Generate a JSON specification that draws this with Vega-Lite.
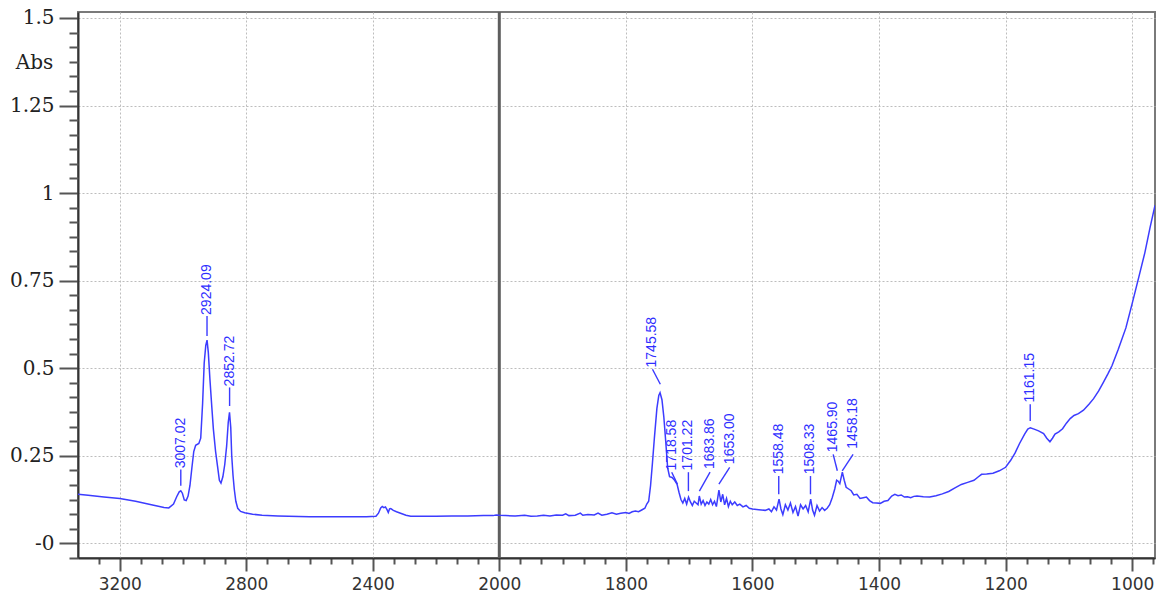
{
  "$schema": "https://vega.github.io/schema/vega-lite/v6.json",
  "width": 1077,
  "height": 546,
  "autosize": {"type": "none"},
  "padding": {"left": 78, "top": 12, "right": 6, "bottom": 37},
  "background": "white",
  "config": {
    "view": {"stroke": "#7a7a7a", "strokeWidth": 2},
    "axis": {"domainColor": "#333333", "domainWidth": 2, "tickColor": "#555555", "tickWidth": 2}
  },
  "datasets": {
    "spectrum": [
      {"wn": 3332, "abs": 0.140}, {"wn": 3300, "abs": 0.137}, {"wn": 3250, "abs": 0.132}, {"wn": 3200, "abs": 0.128},
      {"wn": 3150, "abs": 0.120}, {"wn": 3100, "abs": 0.110}, {"wn": 3060, "abs": 0.102}, {"wn": 3045, "abs": 0.101},
      {"wn": 3030, "abs": 0.112}, {"wn": 3020, "abs": 0.133}, {"wn": 3012, "abs": 0.147}, {"wn": 3007, "abs": 0.150},
      {"wn": 3002, "abs": 0.143}, {"wn": 2996, "abs": 0.124}, {"wn": 2990, "abs": 0.122}, {"wn": 2984, "abs": 0.135},
      {"wn": 2978, "abs": 0.165}, {"wn": 2972, "abs": 0.215}, {"wn": 2966, "abs": 0.262}, {"wn": 2960, "abs": 0.280},
      {"wn": 2950, "abs": 0.285}, {"wn": 2944, "abs": 0.300}, {"wn": 2938, "abs": 0.400}, {"wn": 2933, "abs": 0.515},
      {"wn": 2928, "abs": 0.565}, {"wn": 2924, "abs": 0.580}, {"wn": 2920, "abs": 0.545}, {"wn": 2915, "abs": 0.470},
      {"wn": 2909, "abs": 0.390}, {"wn": 2904, "abs": 0.326}, {"wn": 2897, "abs": 0.262}, {"wn": 2891, "abs": 0.221},
      {"wn": 2885, "abs": 0.180}, {"wn": 2880, "abs": 0.172}, {"wn": 2874, "abs": 0.190}, {"wn": 2868, "abs": 0.225},
      {"wn": 2862, "abs": 0.278}, {"wn": 2857, "abs": 0.345}, {"wn": 2853, "abs": 0.374}, {"wn": 2849, "abs": 0.330},
      {"wn": 2846, "abs": 0.250}, {"wn": 2842, "abs": 0.195}, {"wn": 2838, "abs": 0.155}, {"wn": 2833, "abs": 0.120},
      {"wn": 2827, "abs": 0.100}, {"wn": 2818, "abs": 0.091}, {"wn": 2805, "abs": 0.087}, {"wn": 2780, "abs": 0.083},
      {"wn": 2750, "abs": 0.080}, {"wn": 2700, "abs": 0.078}, {"wn": 2600, "abs": 0.076}, {"wn": 2500, "abs": 0.076},
      {"wn": 2420, "abs": 0.076}, {"wn": 2390, "abs": 0.077}, {"wn": 2382, "abs": 0.086}, {"wn": 2375, "abs": 0.101},
      {"wn": 2370, "abs": 0.105}, {"wn": 2365, "abs": 0.102}, {"wn": 2360, "abs": 0.104}, {"wn": 2355, "abs": 0.096},
      {"wn": 2351, "abs": 0.088}, {"wn": 2347, "abs": 0.098}, {"wn": 2343, "abs": 0.099}, {"wn": 2335, "abs": 0.094},
      {"wn": 2325, "abs": 0.090}, {"wn": 2310, "abs": 0.085}, {"wn": 2295, "abs": 0.080}, {"wn": 2280, "abs": 0.077},
      {"wn": 2250, "abs": 0.077}, {"wn": 2200, "abs": 0.077}, {"wn": 2150, "abs": 0.078}, {"wn": 2100, "abs": 0.078},
      {"wn": 2050, "abs": 0.079}, {"wn": 2020, "abs": 0.079}, {"wn": 2010, "abs": 0.081}, {"wn": 2000, "abs": 0.080},
      {"wn": 1990, "abs": 0.079}, {"wn": 1975, "abs": 0.078}, {"wn": 1960, "abs": 0.080}, {"wn": 1950, "abs": 0.077},
      {"wn": 1940, "abs": 0.078}, {"wn": 1930, "abs": 0.080}, {"wn": 1920, "abs": 0.078}, {"wn": 1910, "abs": 0.081},
      {"wn": 1900, "abs": 0.080}, {"wn": 1895, "abs": 0.084}, {"wn": 1890, "abs": 0.079}, {"wn": 1880, "abs": 0.080},
      {"wn": 1872, "abs": 0.086}, {"wn": 1868, "abs": 0.080}, {"wn": 1860, "abs": 0.082}, {"wn": 1850, "abs": 0.081},
      {"wn": 1844, "abs": 0.086}, {"wn": 1838, "abs": 0.080}, {"wn": 1830, "abs": 0.083}, {"wn": 1822, "abs": 0.087},
      {"wn": 1815, "abs": 0.083}, {"wn": 1808, "abs": 0.086}, {"wn": 1800, "abs": 0.088}, {"wn": 1795, "abs": 0.085},
      {"wn": 1790, "abs": 0.090}, {"wn": 1785, "abs": 0.092}, {"wn": 1780, "abs": 0.090}, {"wn": 1775, "abs": 0.095},
      {"wn": 1770, "abs": 0.100}, {"wn": 1767, "abs": 0.112}, {"wn": 1764, "abs": 0.120}, {"wn": 1761, "abs": 0.165},
      {"wn": 1758, "abs": 0.230}, {"wn": 1755, "abs": 0.300}, {"wn": 1751, "abs": 0.385}, {"wn": 1748, "abs": 0.422},
      {"wn": 1746, "abs": 0.430}, {"wn": 1743, "abs": 0.410}, {"wn": 1740, "abs": 0.360}, {"wn": 1737, "abs": 0.290},
      {"wn": 1734, "abs": 0.215}, {"wn": 1731, "abs": 0.190}, {"wn": 1727, "abs": 0.188}, {"wn": 1723, "abs": 0.180},
      {"wn": 1719, "abs": 0.168}, {"wn": 1716, "abs": 0.145}, {"wn": 1713, "abs": 0.125}, {"wn": 1710, "abs": 0.115},
      {"wn": 1707, "abs": 0.128}, {"wn": 1704, "abs": 0.112}, {"wn": 1701, "abs": 0.132}, {"wn": 1698, "abs": 0.118},
      {"wn": 1695, "abs": 0.108}, {"wn": 1692, "abs": 0.120}, {"wn": 1689, "abs": 0.115}, {"wn": 1686, "abs": 0.110},
      {"wn": 1684, "abs": 0.135}, {"wn": 1681, "abs": 0.112}, {"wn": 1678, "abs": 0.122}, {"wn": 1675, "abs": 0.108},
      {"wn": 1672, "abs": 0.118}, {"wn": 1669, "abs": 0.112}, {"wn": 1666, "abs": 0.125}, {"wn": 1663, "abs": 0.110},
      {"wn": 1660, "abs": 0.120}, {"wn": 1657, "abs": 0.105}, {"wn": 1653, "abs": 0.152}, {"wn": 1650, "abs": 0.118},
      {"wn": 1647, "abs": 0.140}, {"wn": 1644, "abs": 0.110}, {"wn": 1641, "abs": 0.128}, {"wn": 1638, "abs": 0.105},
      {"wn": 1635, "abs": 0.120}, {"wn": 1632, "abs": 0.110}, {"wn": 1628, "abs": 0.118}, {"wn": 1624, "abs": 0.108},
      {"wn": 1620, "abs": 0.112}, {"wn": 1615, "abs": 0.104}, {"wn": 1610, "abs": 0.108}, {"wn": 1605, "abs": 0.100},
      {"wn": 1600, "abs": 0.098}, {"wn": 1590, "abs": 0.096}, {"wn": 1580, "abs": 0.094}, {"wn": 1574, "abs": 0.098},
      {"wn": 1570, "abs": 0.090}, {"wn": 1566, "abs": 0.104}, {"wn": 1562, "abs": 0.095}, {"wn": 1558, "abs": 0.126},
      {"wn": 1555, "abs": 0.098}, {"wn": 1552, "abs": 0.082}, {"wn": 1548, "abs": 0.110}, {"wn": 1544, "abs": 0.095},
      {"wn": 1540, "abs": 0.115}, {"wn": 1536, "abs": 0.088}, {"wn": 1532, "abs": 0.105}, {"wn": 1528, "abs": 0.078},
      {"wn": 1524, "abs": 0.110}, {"wn": 1520, "abs": 0.098}, {"wn": 1516, "abs": 0.108}, {"wn": 1512, "abs": 0.090},
      {"wn": 1508, "abs": 0.126}, {"wn": 1505, "abs": 0.095}, {"wn": 1502, "abs": 0.080}, {"wn": 1498, "abs": 0.108},
      {"wn": 1494, "abs": 0.092}, {"wn": 1490, "abs": 0.102}, {"wn": 1486, "abs": 0.094}, {"wn": 1482, "abs": 0.100},
      {"wn": 1478, "abs": 0.110}, {"wn": 1474, "abs": 0.130}, {"wn": 1470, "abs": 0.155}, {"wn": 1467, "abs": 0.180},
      {"wn": 1465, "abs": 0.178}, {"wn": 1462, "abs": 0.170}, {"wn": 1458, "abs": 0.203}, {"wn": 1455, "abs": 0.180},
      {"wn": 1452, "abs": 0.160}, {"wn": 1448, "abs": 0.155}, {"wn": 1444, "abs": 0.150}, {"wn": 1440, "abs": 0.138},
      {"wn": 1435, "abs": 0.140}, {"wn": 1430, "abs": 0.128}, {"wn": 1425, "abs": 0.130}, {"wn": 1420, "abs": 0.132},
      {"wn": 1415, "abs": 0.122}, {"wn": 1410, "abs": 0.116}, {"wn": 1404, "abs": 0.115}, {"wn": 1398, "abs": 0.114},
      {"wn": 1392, "abs": 0.120}, {"wn": 1386, "abs": 0.122}, {"wn": 1380, "abs": 0.135}, {"wn": 1375, "abs": 0.140},
      {"wn": 1370, "abs": 0.136}, {"wn": 1365, "abs": 0.138}, {"wn": 1360, "abs": 0.132}, {"wn": 1355, "abs": 0.133},
      {"wn": 1350, "abs": 0.130}, {"wn": 1345, "abs": 0.134}, {"wn": 1340, "abs": 0.135}, {"wn": 1330, "abs": 0.133},
      {"wn": 1320, "abs": 0.132}, {"wn": 1310, "abs": 0.136}, {"wn": 1300, "abs": 0.141}, {"wn": 1290, "abs": 0.148},
      {"wn": 1280, "abs": 0.158}, {"wn": 1270, "abs": 0.168}, {"wn": 1260, "abs": 0.174}, {"wn": 1250, "abs": 0.180},
      {"wn": 1243, "abs": 0.190}, {"wn": 1238, "abs": 0.197}, {"wn": 1230, "abs": 0.198}, {"wn": 1220, "abs": 0.200},
      {"wn": 1210, "abs": 0.207}, {"wn": 1200, "abs": 0.217}, {"wn": 1192, "abs": 0.237}, {"wn": 1185, "abs": 0.258},
      {"wn": 1178, "abs": 0.285}, {"wn": 1170, "abs": 0.312}, {"wn": 1165, "abs": 0.326}, {"wn": 1161, "abs": 0.330},
      {"wn": 1155, "abs": 0.326}, {"wn": 1148, "abs": 0.321}, {"wn": 1140, "abs": 0.313}, {"wn": 1135, "abs": 0.300},
      {"wn": 1130, "abs": 0.290}, {"wn": 1126, "abs": 0.300}, {"wn": 1122, "abs": 0.312}, {"wn": 1116, "abs": 0.318},
      {"wn": 1110, "abs": 0.327}, {"wn": 1104, "abs": 0.343}, {"wn": 1098, "abs": 0.356}, {"wn": 1092, "abs": 0.365},
      {"wn": 1085, "abs": 0.370}, {"wn": 1077, "abs": 0.380}, {"wn": 1068, "abs": 0.398}, {"wn": 1061, "abs": 0.413},
      {"wn": 1053, "abs": 0.435}, {"wn": 1046, "abs": 0.458}, {"wn": 1038, "abs": 0.485}, {"wn": 1032, "abs": 0.507},
      {"wn": 1022, "abs": 0.554}, {"wn": 1010, "abs": 0.615}, {"wn": 1000, "abs": 0.685}, {"wn": 990, "abs": 0.757},
      {"wn": 980, "abs": 0.830}, {"wn": 972, "abs": 0.900}, {"wn": 964, "abs": 0.965}
    ],
    "peaks": [
      {"label": "3007.02", "wn": 3007.02, "lx": 3007.02, "lo": 0.164, "hi": 0.211, "ty": 0.214},
      {"label": "2924.09", "wn": 2924.09, "lx": 2924.09, "lo": 0.592, "hi": 0.649, "ty": 0.652},
      {"label": "2852.72", "wn": 2852.72, "lx": 2852.72, "lo": 0.392, "hi": 0.445, "ty": 0.448},
      {"label": "1745.58", "wn": 1745.58, "lx": 1758, "lo": 0.454, "hi": 0.497, "ty": 0.502},
      {"label": "1718.58", "wn": 1718.58, "lx": 1727.6, "lo": 0.169, "hi": 0.203, "ty": 0.208},
      {"label": "1701.22", "wn": 1701.22, "lx": 1701.22, "lo": 0.149, "hi": 0.203, "ty": 0.208},
      {"label": "1683.86", "wn": 1683.86, "lx": 1667, "lo": 0.149, "hi": 0.203, "ty": 0.212},
      {"label": "1653.00", "wn": 1653.0, "lx": 1636, "lo": 0.169, "hi": 0.217, "ty": 0.226},
      {"label": "1558.48", "wn": 1558.48, "lx": 1558.48, "lo": 0.14, "hi": 0.192, "ty": 0.197},
      {"label": "1508.33", "wn": 1508.33, "lx": 1508.33, "lo": 0.14, "hi": 0.192, "ty": 0.197},
      {"label": "1465.90", "wn": 1465.9, "lx": 1472.5, "lo": 0.207, "hi": 0.254, "ty": 0.26},
      {"label": "1458.18", "wn": 1458.18, "lx": 1441, "lo": 0.207, "hi": 0.254, "ty": 0.27},
      {"label": "1161.15", "wn": 1161.15, "lx": 1161.15, "lo": 0.349, "hi": 0.397, "ty": 0.402}
    ],
    "divider": [{"wn": 2000, "abs": 0}]
  },
  "resolve": {"axis": {"x": "independent", "y": "independent"}},
  "layer": [
    {
      "data": {"name": "divider"},
      "mark": {"type": "rule", "color": "#5e5e5e", "strokeWidth": 3},
      "encoding": {
        "x": {
          "field": "wn",
          "type": "quantitative",
          "scale": {"domain": [3332, 2000, 964], "range": [0, 421.3, 1077], "nice": false, "zero": false},
          "axis": {
            "orient": "bottom",
            "title": null,
            "values": [3266.67, 3133.33, 3066.67, 3000, 2933.33, 2866.67, 2733.33, 2666.67, 2600, 2533.33, 2466.67, 2333.33, 2266.67, 2200, 2133.33, 2066.67, 1966.67, 1933.33, 1900, 1866.67, 1833.33, 1766.67, 1733.33, 1700, 1666.67, 1633.33, 1566.67, 1533.33, 1500, 1466.67, 1433.33, 1366.67, 1333.33, 1300, 1266.67, 1233.33, 1166.67, 1133.33, 1100, 1066.67, 1033.33, 966.67],
            "labels": false,
            "grid": false,
            "domain": false,
            "tickSize": 6
          }
        }
      }
    },
    {
      "data": {"name": "spectrum"},
      "mark": {"type": "line", "color": "#3c3cff", "strokeWidth": 1.5, "clip": true},
      "encoding": {
        "x": {
          "field": "wn",
          "type": "quantitative",
          "axis": {
            "orient": "bottom",
            "title": null,
            "values": [3200, 2800, 2400, 2000, 1800, 1600, 1400, 1200, 1000],
            "format": "d",
            "labelFont": "DejaVu Sans",
            "labelFontSize": 17,
            "labelColor": "#333333",
            "labelPadding": 5,
            "labelOverlap": false,
            "labelFlush": false,
            "tickSize": 13,
            "grid": true,
            "gridColor": "#bdbdbd",
            "gridDash": [2, 2],
            "gridWidth": 1
          }
        },
        "y": {
          "field": "abs",
          "type": "quantitative",
          "scale": {"domain": [-0.042, 1.517], "nice": false, "zero": false},
          "axis": {
            "orient": "left",
            "title": "Abs",
            "titleAngle": 0,
            "titleX": -44,
            "titleY": 50,
            "titleAlign": "center",
            "titleBaseline": "middle",
            "titleFont": "DejaVu Serif",
            "titleFontSize": 20,
            "titleFontWeight": "normal",
            "titleColor": "#222222",
            "values": [0, 0.25, 0.5, 0.75, 1, 1.25, 1.5],
            "labelExpr": "datum.value == 0 ? '-0' : toString(datum.value)",
            "labelFont": "DejaVu Serif",
            "labelFontSize": 20,
            "labelColor": "#222222",
            "labelPadding": 5,
            "labelOverlap": false,
            "labelFlush": false,
            "tickSize": 19,
            "grid": true,
            "gridColor": "#bdbdbd",
            "gridDash": [2, 2],
            "gridWidth": 1
          }
        }
      }
    },
    {
      "data": {"name": "peaks"},
      "mark": {"type": "rule", "color": "#3a3aff", "strokeWidth": 1.4},
      "encoding": {
        "x": {"field": "wn", "type": "quantitative", "axis": null},
        "x2": {"field": "lx"},
        "y": {
          "field": "lo",
          "type": "quantitative",
          "axis": {
            "orient": "left",
            "title": null,
            "values": [-0.0417, 0.0417, 0.0833, 0.125, 0.1667, 0.2083, 0.2917, 0.3333, 0.375, 0.4167, 0.4583, 0.5417, 0.5833, 0.625, 0.6667, 0.7083, 0.7917, 0.8333, 0.875, 0.9167, 0.9583, 1.0417, 1.0833, 1.125, 1.1667, 1.2083, 1.2917, 1.3333, 1.375, 1.4167, 1.4583],
            "labels": false,
            "grid": false,
            "domain": false,
            "tickSize": 9
          }
        },
        "y2": {"field": "hi"}
      }
    },
    {
      "data": {"name": "peaks"},
      "mark": {"type": "text", "angle": 270, "align": "left", "baseline": "middle", "font": "Liberation Sans", "fontSize": 14, "color": "#2f2fff"},
      "encoding": {
        "x": {"field": "lx", "type": "quantitative", "axis": null},
        "y": {"field": "ty", "type": "quantitative", "axis": null},
        "text": {"field": "label"}
      }
    }
  ]
}
